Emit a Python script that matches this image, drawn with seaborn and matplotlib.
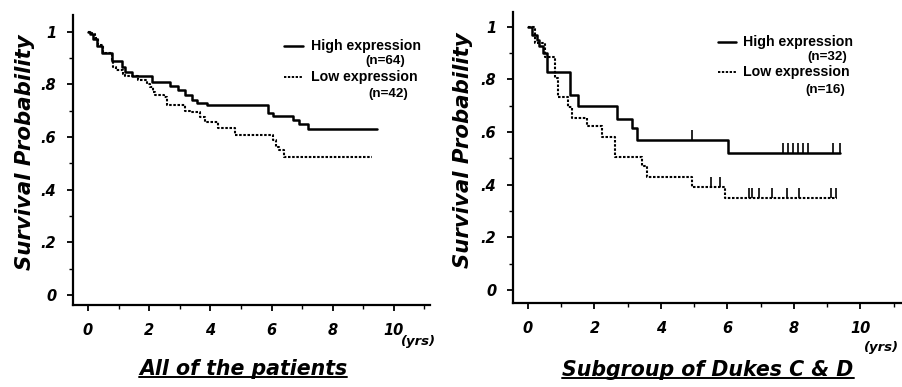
import numpy as np
import pandas as pd
import seaborn as sns
import matplotlib.ticker as mtick
from matplotlib import pyplot as plt
from matplotlib.lines import Line2D
from matplotlib.path import Path

# all of the patients
all_high_t = [0, 0.07, 0.16, 0.3, 0.46, 0.78, 1.1, 1.2, 1.44, 2.1, 2.68, 2.94, 3.17, 3.4, 3.56, 3.9,
              5.9, 6.05, 6.7, 6.9, 7.2, 9.45]
all_high_s = [1.0, 0.99, 0.97, 0.945, 0.92, 0.89, 0.865, 0.846, 0.83, 0.81, 0.795, 0.78, 0.76, 0.74, 0.73, 0.72,
              0.69, 0.68, 0.664, 0.65, 0.63, 0.63]
all_low_t = [0, 0.13, 0.23, 0.33, 0.5, 0.78, 0.83, 0.9, 1.15, 1.22, 1.65, 1.93, 2.03, 2.13, 2.2, 2.5, 2.57,
             3.17, 3.33, 3.66, 3.82, 4.25, 4.8, 6.05, 6.15, 6.25, 6.4, 9.3]
all_low_s = [1.0, 0.99, 0.975, 0.95, 0.92, 0.89, 0.865, 0.855, 0.84, 0.83, 0.815, 0.80, 0.79, 0.77, 0.76, 0.75, 0.72,
             0.70, 0.695, 0.675, 0.655, 0.635, 0.607, 0.59, 0.56, 0.55, 0.525, 0.525]

# subgroup of Dukes C & D
dk_high_t = [0, 0.12, 0.27, 0.32, 0.45, 0.57, 1.27, 1.5, 2.67, 3.12, 3.27, 6.03, 9.4]
dk_high_s = [1.0, 0.97, 0.95, 0.925, 0.90, 0.83, 0.74, 0.70, 0.65, 0.615, 0.57, 0.52, 0.52]
dk_low_t = [0, 0.22, 0.5, 0.82, 0.9, 1.2, 1.32, 1.77, 2.23, 2.62, 3.43, 3.58, 4.93, 5.93, 9.3]
dk_low_s = [1.0, 0.94, 0.885, 0.805, 0.735, 0.695, 0.655, 0.625, 0.58, 0.505, 0.47, 0.43, 0.39, 0.35, 0.35]
dk_high_cens = [4.93, 7.67, 7.82, 7.97, 8.12, 8.27, 8.42, 9.17, 9.38]
dk_low_cens = [5.5, 5.77, 6.65, 6.75, 6.95, 7.35, 7.8, 8.15, 9.1, 9.25]

x_ticks = [0, 2, 4, 6, 8, 10]
y_ticks = [0, 0.2, 0.4, 0.6, 0.8, 1.0]
y_tick_labels = ['0', '.2', '.4', '.6', '.8', '1']

W, H = 903, 387


def surv_at(times, surv, t):
    idx = np.searchsorted(times, t, side='right') - 1
    return [surv[i] for i in idx]


def fx(px):
    return px / W


def fy(py):
    return 1 - py / H


sns.set_theme(style="ticks")
plt.rcParams['font.family'] = ['DejaVu Sans']
plt.rcParams['text.color'] = 'black'
plt.rcParams['xtick.color'] = 'black'
plt.rcParams['ytick.color'] = 'black'
plt.rcParams['axes.labelcolor'] = 'black'

fig = plt.figure(figsize=(W / 100, H / 100), dpi=100)

panels = [
    dict(box=(73, 430, 15, 305), xlim=(-0.49, 11.18), ylim=(-0.038, 1.063),
         high=(all_high_t, all_high_s), low=(all_low_t, all_low_s), cens=None,
         title='All of the patients', title_xy=(243, 369), ylab_xy=(25, 152), yrs_xy=(418, 342),
         leg=dict(line_x=(284, 303), text_x=311, y1=46, y2=77, n1=('(n=64)', 405, 61), n2=('(n=42)', 408, 94))),
    dict(box=(513, 903, 12, 303), xlim=(-0.45, 11.28), ylim=(-0.049, 1.056),
         high=(dk_high_t, dk_high_s), low=(dk_low_t, dk_low_s), cens=(dk_high_cens, dk_low_cens),
         title='Subgroup of Dukes C & D', title_xy=(708, 370), ylab_xy=(463, 150), yrs_xy=(881, 347),
         leg=dict(line_x=(718, 736), text_x=743, y1=42, y2=72, n1=('(n=32)', 847, 57), n2=('(n=16)', 845, 90))),
]

dot_style = (0, (1.2, 0.8))
# censor tick standing up from the curve
cens_marker = Path([(0, 0), (0, 1)])
titles = []
for p in panels:
    l, r, t, b = p['box']
    ax = fig.add_axes([fx(l), fy(b), (r - l) / W, (b - t) / H])
    ht, hs = p['high']
    lt, ls = p['low']
    sns.lineplot(x=ht, y=hs, ax=ax, color='black', lw=1.8, drawstyle='steps-post', estimator=None, sort=False)
    sns.lineplot(x=lt, y=ls, ax=ax, color='black', lw=1.5, drawstyle='steps-post', estimator=None, sort=False,
                 linestyle=dot_style)
    if p['cens'] is not None:
        hc, lc = p['cens']
        ax.scatter(hc, surv_at(ht, hs, hc), marker=cens_marker, s=190, color='black', linewidths=1.2)
        ax.scatter(lc, surv_at(lt, ls, lc), marker=cens_marker, s=190, color='black', linewidths=1.2)
    ax.set_xlim(*p['xlim'])
    ax.set_ylim(*p['ylim'])
    ax.set_xticks(x_ticks)
    ax.set_xticklabels([str(v) for v in x_ticks])
    ax.set_yticks(y_ticks)
    ax.set_yticklabels(y_tick_labels)
    ax.xaxis.set_minor_locator(mtick.MultipleLocator(1))
    ax.yaxis.set_minor_locator(mtick.MultipleLocator(0.1))
    for s in ['top', 'right']:
        ax.spines[s].set_visible(False)
    for s in ['left', 'bottom']:
        ax.spines[s].set_linewidth(1.6)
        ax.spines[s].set_color('black')
    ax.tick_params(axis='both', which='major', direction='out', length=4, width=1.3, color='black',
                   labelsize=10.5, pad=9)
    ax.tick_params(axis='both', which='minor', direction='out', length=3, width=1.0, color='black')
    ax.tick_params(axis='y', which='major', pad=8)
    for lab in ax.get_xticklabels() + ax.get_yticklabels():
        lab.set_fontweight('bold')
        lab.set_fontstyle('italic')
    ax.set_xlabel('')
    ax.set_ylabel('')
    ax.set_facecolor('white')

    # y label, title and unit
    fig.text(fx(p['ylab_xy'][0]), fy(p['ylab_xy'][1]), 'Survival Probability', rotation=90,
             ha='center', va='center', fontsize=15.3, fontweight='bold', fontstyle='italic')
    tt = fig.text(fx(p['title_xy'][0]), fy(p['title_xy'][1]), p['title'], ha='center', va='center',
                  fontsize=14.8, fontweight='bold', fontstyle='italic')
    titles.append(tt)
    fig.text(fx(p['yrs_xy'][0]), fy(p['yrs_xy'][1]), '(yrs)', ha='center', va='center',
             fontsize=9.5, fontweight='bold', fontstyle='italic')

    # legend
    lg = p['leg']
    fig.add_artist(Line2D([fx(lg['line_x'][0]), fx(lg['line_x'][1])], [fy(lg['y1'])] * 2,
                          color='black', lw=1.8, transform=fig.transFigure))
    fig.add_artist(Line2D([fx(lg['line_x'][0]), fx(lg['line_x'][1])], [fy(lg['y2'])] * 2,
                          color='black', lw=1.4, linestyle=dot_style, transform=fig.transFigure))
    fig.text(fx(lg['text_x']), fy(lg['y1']), 'High expression', ha='left', va='center',
             fontsize=10.2, family='Liberation Sans', fontweight='bold')
    fig.text(fx(lg['text_x']), fy(lg['y2']), 'Low expression', ha='left', va='center',
             fontsize=10.2, family='Liberation Sans', fontweight='bold')
    for txt, xr, yc in [lg['n1'], lg['n2']]:
        fig.text(fx(xr), fy(yc), txt, ha='right', va='center',
                 fontsize=9.6, family='Liberation Sans', fontweight='bold')

# underline the panel titles
fig.canvas.draw()
renderer = fig.canvas.get_renderer()
for tt in titles:
    bb = tt.get_window_extent(renderer).transformed(fig.transFigure.inverted())
    fig.add_artist(Line2D([bb.x0, bb.x1], [bb.y0 + 0.006] * 2, color='black', lw=1.4,
                          transform=fig.transFigure))

fig.savefig('out.png', dpi=100, facecolor='white')
